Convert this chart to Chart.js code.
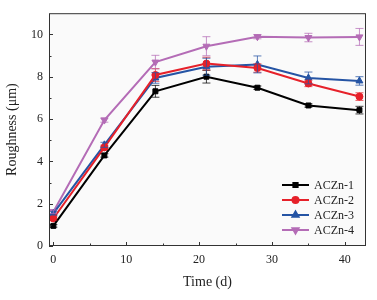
<!DOCTYPE html>
<html>
<head>
<meta charset="utf-8">
<script src="https://cdn.jsdelivr.net/npm/chart.js@4/dist/chart.umd.min.js"></script>
<style>
  html, body { margin: 0; padding: 0; background: #fff; }
  #wrap { width: 377px; height: 300px; }
</style>
</head>
<body>
<div id="wrap"><canvas id="rough"></canvas></div>
<script>
// time points (days) and roughness values (um)
var days = [0, 7, 14, 21, 28, 35, 42];
var names = ['ACZn-1', 'ACZn-2', 'ACZn-3', 'ACZn-4'];

var zn1 = [0.95, 4.28, 7.31, 8.00, 7.48, 6.64, 6.42];
var zn2 = [1.30, 4.66, 8.08, 8.62, 8.41, 7.68, 7.06];
var zn3 = [1.54, 4.78, 7.94, 8.47, 8.58, 7.94, 7.80];
var zn4 = [1.62, 5.95, 8.69, 9.44, 9.89, 9.85, 9.88];

var err1 = [0.06, 0.08, 0.28, 0.30, 0.08, 0.08, 0.18];
var err2 = [0.08, 0.10, 0.30, 0.30, 0.20, 0.15, 0.18];
var err3 = [0.08, 0.12, 0.25, 0.40, 0.40, 0.28, 0.20];
var err4 = [0.08, 0.10, 0.32, 0.45, 0.10, 0.20, 0.40];

var xTicks = [0, 10, 20, 30, 40];
var yTicks = [0, 2, 4, 6, 8, 10];

var serif = '"Liberation Serif", "DejaVu Serif", serif';

function pts(vals) {
  var out = [];
  for (var i = 0; i < days.length; i++) out.push({ x: days[i], y: vals[i] });
  return out;
}

var colors = ['#000000', '#e6212a', '#2554a4', '#b46cb6'];
var shapes = ['rect', 'circle', 'triangle', 'triangle'];
var rots = [0, 0, 0, 180];
var series = [zn1, zn2, zn3, zn4];
var errs = [err1, err2, err3, err4];

var sets = [];
for (var k = 0; k < series.length; k++) {
  sets.push({
    label: names[k],
    data: pts(series[k]),
    errs: errs[k],
    borderColor: colors[k],
    backgroundColor: colors[k],
    borderWidth: 2,
    pointStyle: shapes[k],
    pointRotation: rots[k],
    pointRadius: shapes[k] == 'triangle' ? 4 : 3.5,
    pointBorderWidth: 1,
    showLine: true,
    tension: 0
  });
}

// plot background + frame + inward ticks
var frame = {
  id: 'frame',
  beforeDraw: function(chart) {
    var a = chart.chartArea, c = chart.ctx;
    c.save();
    c.fillStyle = '#fafafa';
    c.fillRect(a.left, a.top, a.right - a.left, a.bottom - a.top);
    c.restore();
  },
  afterDraw: function(chart) {
    var a = chart.chartArea, c = chart.ctx;
    var xs = chart.scales.x, ys = chart.scales.y;
    c.save();
    c.strokeStyle = '#333';
    c.lineWidth = 1;
    c.strokeRect(a.left + 0.5, a.top + 0.5, a.right - a.left - 1, a.bottom - a.top - 1);
    c.beginPath();
    for (var v = 0; v <= 40; v += 5) {
      var px = Math.round(xs.getPixelForValue(v)) + 0.5;
      var len = (v % 10 == 0) ? 4 : 2.5;
      c.moveTo(px, a.bottom);
      c.lineTo(px, a.bottom - len);
    }
    for (var w = 0; w <= 10; w += 1) {
      var py = Math.round(ys.getPixelForValue(w)) + 0.5;
      var l2 = (w % 2 == 0) ? 4 : 2.5;
      c.moveTo(a.left, py);
      c.lineTo(a.left + l2, py);
    }
    c.stroke();
    c.restore();
  }
};

// error bars from the errs arrays
var errorBars = {
  id: 'errorBars',
  afterDatasetsDraw: function(chart) {
    var c = chart.ctx, xs = chart.scales.x, ys = chart.scales.y;
    c.save();
    c.lineWidth = 1;
    chart.data.datasets.forEach(function(ds) {
      c.strokeStyle = ds.borderColor;
      c.globalAlpha = 0.75;
      ds.data.forEach(function(p, i) {
        var e = ds.errs[i];
        var px = xs.getPixelForValue(p.x);
        var top = ys.getPixelForValue(p.y + e);
        var bot = ys.getPixelForValue(p.y - e);
        c.beginPath();
        c.moveTo(px, top); c.lineTo(px, bot);
        c.moveTo(px - 4, top); c.lineTo(px + 4, top);
        c.moveTo(px - 4, bot); c.lineTo(px + 4, bot);
        c.stroke();
      });
    });
    c.restore();
  }
};

// legend inside the plot, bottom right
var innerLegend = {
  id: 'innerLegend',
  afterDraw: function(chart) {
    var a = chart.chartArea, c = chart.ctx;
    var offs = [61, 46, 31, 16];
    c.save();
    c.font = '12px ' + serif;
    c.textBaseline = 'middle';
    chart.data.datasets.forEach(function(ds, i) {
      var y = a.bottom - offs[i];
      var x0 = a.right - 84, x1 = a.right - 57;
      c.strokeStyle = ds.borderColor;
      c.lineWidth = 2;
      c.beginPath();
      c.moveTo(x0, y); c.lineTo(x1, y);
      c.stroke();
      c.fillStyle = ds.backgroundColor;
      Chart.helpers.drawPoint(c, {
        pointStyle: ds.pointStyle,
        rotation: ds.pointRotation,
        radius: ds.pointRadius - 0.5,
        borderWidth: 1
      }, (x0 + x1) / 2, y);
      c.fillStyle = '#222';
      c.fillText(ds.label, a.right - 52, y + 1);
    });
    c.restore();
  }
};

const ctx = document.getElementById('rough').getContext('2d');

const roughChart = new Chart(ctx, {
  type: 'scatter',
  data: { datasets: sets },
  plugins: [frame, errorBars, innerLegend],
  options: {
    responsive: true,
    maintainAspectRatio: false,
    animation: false,
    layout: { padding: { left: 0, top: 11, right: 11, bottom: 0 } },
    plugins: {
      legend: { display: false },
      tooltip: { enabled: false }
    },
    scales: {
      x: {
        type: 'linear',
        min: -0.6,
        max: 42.9,
        afterBuildTicks: function(s) { s.ticks = xTicks.map(function(v) { return { value: v }; }); },
        afterFit: function(s) { s.height = 54; },
        grid: { display: false, drawTicks: false },
        border: { display: false },
        ticks: {
          padding: 7,
          color: '#222',
          font: { family: serif, size: 12 }
        },
        title: {
          display: true,
          text: 'Time (d)',
          color: '#222',
          padding: { top: 4, bottom: 9 },
          font: { family: serif, size: 14 }
        }
      },
      y: {
        min: 0,
        max: 11,
        afterBuildTicks: function(s) { s.ticks = yTicks.map(function(v) { return { value: v }; }); },
        afterFit: function(s) { s.width = 49; },
        grid: { display: false, drawTicks: false },
        border: { display: false },
        ticks: {
          padding: 6,
          color: '#222',
          font: { family: serif, size: 12 }
        },
        title: {
          display: true,
          text: 'Roughness (\u03bcm)',
          color: '#222',
          padding: { top: 4, bottom: 4 },
          font: { family: serif, size: 14 }
        }
      }
    }
  }
});
</script>
</body>
</html>
